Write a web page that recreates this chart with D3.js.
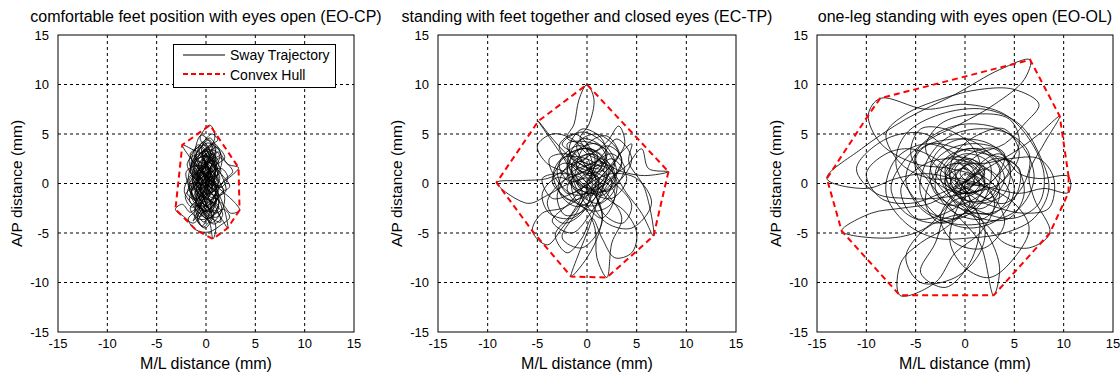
<!DOCTYPE html>
<html><head><meta charset="utf-8">
<script src="https://cdn.jsdelivr.net/npm/d3@7"></script>
<style>
body{margin:0;background:#fff;}
svg{font-family:"Liberation Sans",Arial,sans-serif;}
</style></head>
<body>
<svg id="c" width="1120" height="375"></svg>
<script>
const titles = [
  "comfortable feet position with eyes open (EO-CP)",
  "standing with feet together and closed eyes (EC-TP)",
  "one-leg standing with eyes open (EO-OL)"
];
const tickValues = [-15,-10,-5,0,5,10,15];
const xLabel = "M/L distance (mm)";
const yLabel = "A/P distance (mm)";
const legendLabels = ["Sway Trajectory","Convex Hull"];

const swayEOCP = [[0,0],[0.5,1.2],[-0.4,2.1],[0.3,3.0],[-0.8,2.4],[-0.2,1.0],[0.8,0.3],[-0.6,-0.8],[0.2,-1.9],[-1.1,-1.2],[-0.3,0.4],[0.9,1.6],[0.1,2.8],[-1.3,3.4],[-2.4,3.9],[-1.6,2.6],[-0.7,1.5],[-1.4,0.2],[-0.5,-0.5],[0.6,-1.4],[1.3,-0.6],[0.4,0.7],[-0.9,1.1],[-1.7,-0.3],[-1.0,-1.9],[-0.1,-2.8],[0.8,-2.1],[1.5,-1.0],[2.4,-0.3],[1.6,0.9],[0.7,2.0],[0.0,3.6],[-0.6,4.6],[0.4,5.9],[0.9,4.7],[0.2,3.4],[-0.9,2.9],[-1.5,1.8],[-0.8,0.6],[0.3,-0.2],[1.1,0.4],[0.5,1.6],[-0.3,2.4],[-1.0,1.4],[-1.8,0.5],[-2.2,-0.8],[-1.5,-2.0],[-0.6,-3.1],[0.3,-3.8],[0.7,-5.6],[1.0,-4.4],[0.5,-3.0],[-0.2,-1.6],[-1.0,-0.4],[-0.4,0.9],[0.6,1.8],[1.4,2.6],[2.3,1.9],[3.3,1.6],[2.6,0.8],[1.7,0.1],[0.8,-0.7],[0.0,-1.3],[-0.8,-2.2],[-1.6,-2.9],[-2.4,-2.1],[-3.1,-2.6],[-2.3,-3.3],[-1.3,-4.0],[-0.5,-3.2],[0.1,-2.0],[0.9,-1.5],[1.8,-2.2],[2.5,-3.0],[3.4,-2.7],[2.8,-1.8],[1.9,-1.0],[1.0,-0.2],[0.2,0.5],[-0.6,1.3],[-1.2,2.2],[-0.5,3.1],[0.4,3.9],[1.2,4.4],[0.6,5.0],[-0.2,4.3],[-0.9,3.6],[-1.6,3.0],[-1.1,1.9],[-0.2,1.2],[0.7,0.8],[1.3,-0.1],[0.6,-0.9],[-0.3,-1.1],[-1.2,-1.6],[-1.9,-1.0],[-1.3,0.1],[-0.4,-0.1],[0.5,-0.4],[1.4,-1.3],[2.2,-4.5],[1.6,-3.6],[0.9,-2.7],[0.2,-3.4],[-0.4,-4.3],[-0.9,-3.5],[-0.3,-2.5],[0.4,-1.8],[1.1,-0.8],[1.9,0.4],[2.7,1.2],[2.0,2.2],[1.2,3.2],[0.6,2.4],[-0.1,1.7],[-0.8,0.2],[-1.5,-0.9],[-0.7,-1.7],[0.1,-0.9],[0.9,0.1],[0.3,1.0],[-0.5,2.0],[-1.2,2.8],[-1.9,2.0],[-1.4,0.8],[-0.6,0.0],[0.2,-0.6],[1.0,-1.8],[0.4,-2.6],[-0.4,-2.0],[-1.1,-2.8],[-1.8,-3.6],[-1.0,-4.7],[0.3,-4.9],[1.5,-4.2],[2.4,-3.4],[1.8,-2.6],[1.0,-3.0],[0.0,-2.3],[-0.9,-1.0],[-0.2,0.3],[0.7,1.3],[1.6,1.5],[2.2,0.6],[1.5,-0.4],[0.6,0.2],[-0.2,0.9],[-1.0,0.5],[-1.6,1.3],[-1.0,2.5],[-0.2,3.3],[0.6,3.0],[1.3,2.1],[0.8,1.0],[0.0,0.2],[-0.7,-0.6],[0.1,-1.5],[0.8,-2.4],[0.2,-3.0],[-0.5,-1.4],[-1.3,-0.2],[-0.6,1.0],[0.3,2.2],[1.0,3.5],[0.4,4.6],[-0.4,3.8],[-0.3,2.6],[0.3,1.5],[0.0,0.5],
[0.2,-0.8],[-0.5,1.9],[0.4,-1.2],[-0.2,2.6],[0.7,-0.3],[-0.9,1.5],[0.1,-2.4],[-0.6,0.8],[0.8,3.1],[-0.3,-1.0],[0.5,1.1],[-1.2,-0.6],[0.0,2.0],[0.9,-1.9],[-0.7,-3.0],[0.3,0.4],[-0.4,3.3],[1.0,1.2],[-1.0,-1.3],[0.6,-2.9],[-0.2,-0.2],[-1.4,2.1],[0.4,2.7],[1.2,0.0],[-0.5,-2.2],[-1.3,-3.8],[0.2,-1.5],[0.9,1.9],[-0.8,3.9],[-1.5,1.0],[0.3,-0.7],[1.6,-2.5],[0.5,-4.0],[-0.6,-1.8],[-0.1,1.4],[0.7,3.6],[-0.5,4.9],[-1.1,2.3],[0.6,0.1],[1.8,-0.6],[0.2,-2.2],[-1.6,-1.9],[-0.9,0.6],[0.4,2.3],[1.5,3.0],[0.2,4.1],[-1.0,3.0],[-1.8,-0.2],[-0.4,-2.6],[1.1,-3.4],[1.9,-1.5],[0.8,1.0],[-0.7,1.8],[-2.0,1.2],[-1.2,-1.4],[0.1,-3.6],[1.3,-2.0],[0.6,0.9],[-0.4,2.9],[0.9,4.0],[1.6,2.1],[0.3,-0.1],[-1.1,-0.9],[-0.2,-2.9],[0.8,-4.1],[1.7,-3.1],[0.4,-1.6],[-0.9,0.3],[-1.7,2.4],[-0.6,3.7],[0.5,2.0],[1.4,0.5],[0.2,-1.1],[-1.4,-2.4],[-2.1,-1.3],[-1.0,0.1],[0.3,1.3],[1.0,2.6],[0.1,3.5],[-1.2,1.7],[-0.3,-0.4],[0.9,-1.2],[2.0,-0.8],[1.2,1.4],[-0.1,2.2],[-0.9,0.9],[-0.2,-1.7],[0.6,-3.2],[-0.3,-4.4],[-1.1,-2.3],[-0.5,-0.3],[0.6,1.6],[1.9,2.6],[1.0,3.7],[-0.2,2.0],[-1.4,0.4],[-0.6,-1.2],[0.7,-2.0],[1.5,-3.9],[0.0,-3.1],[-1.5,-0.7],[-0.8,1.2],[0.5,2.9],[-0.3,4.2],[-1.0,2.6],[0.2,0.6],[1.1,-0.5],[0.3,-2.1],[-0.7,-3.4],[0.4,-2.6],[1.2,-1.0],[0.4,0.3],[-0.5,1.7],[0.3,3.2],[1.1,2.0],[0.0,0.0],
[0.6,-0.5],[-0.8,0.9],[0.4,2.2],[-0.5,3.0],[0.9,1.3],[-0.2,-0.6],[-1.0,-2.1],[0.5,-2.8],[1.1,-1.2],[-0.3,0.3],[-1.3,1.6],[-0.4,2.9],[0.6,3.8],[0.1,2.1],[-0.9,0.0],[0.2,-1.6],[1.3,-2.3],[0.4,-3.5],[-0.7,-2.5],[-1.5,-1.2],[-0.6,0.5],[0.7,1.5],[1.4,2.8],[0.5,3.4],[-0.6,2.2],[-1.4,1.0],[-0.5,-0.9],[0.5,-1.9],[-0.2,-3.9],[-0.9,-2.8],[0.0,-1.2],[0.9,0.6],[0.0,1.9],[-1.1,2.5],[-0.2,3.9],[0.7,2.6],[1.2,1.0],[0.3,-0.3],[-0.8,-1.6],[-1.6,-2.5],[-0.7,-3.6],[0.6,-3.3],[1.3,-1.9],[0.5,-0.1],[-0.4,1.1],[-1.3,2.0],[-0.5,0.6],[0.6,-0.9],[0.2,1.6],[-0.7,3.2],[0.3,4.4],[1.0,3.0],[0.1,1.1],[-1.0,-0.2],[-0.3,-2.0],[0.8,-2.9],[-0.1,-4.5],[-1.2,-3.1],[-0.4,-1.3],[0.5,0.4],[1.5,1.2],[0.8,2.3],[-0.4,1.6],[-1.7,0.3],[-1.0,-1.0],[0.2,-2.4],[1.0,-0.4],[-0.1,0.8],[0.0,0.0]];

const swayECTP = [[0,1],[1.5,2.5],[2.8,1.0],[1.6,-0.8],[-0.5,-0.2],[-1.8,1.8],[-0.6,3.5],[1.2,3.0],[2.0,1.2],[0.8,-1.5],[-1.2,-2.3],[-2.8,-0.8],[-2.2,1.5],[-0.4,2.2],[0.9,0.3],[0.2,-1.8],[-1.5,-3.5],[-3.8,-3.0],[-4.5,-1.0],[-3.0,0.6],[-1.0,0.2],[0.5,1.8],[-0.3,3.8],[-2.0,4.6],[-1.3,6.0],[-0.8,8.5],[0.0,10.0],[0.7,8.5],[0.2,6.0],[-0.7,4.5],[0.5,3.2],[2.2,3.8],[3.5,2.5],[2.5,0.5],[0.6,-0.6],[-1.2,0.8],[-2.5,2.8],[-4.9,6.3],[-3.2,4.2],[-1.5,2.5],[0.8,1.2],[3.0,-0.2],[4.5,-2.2],[3.6,-4.0],[1.8,-3.2],[1.0,-1.0],[2.4,0.6],[4.0,1.8],[5.5,3.5],[6.2,1.5],[8.2,1.2],[5.8,0.8],[3.5,1.2],[1.0,2.2],[-1.0,1.0],[-2.0,-0.5],[-1.0,-2.0],[0.8,-2.8],[2.5,-2.0],[3.0,0.2],[1.8,2.0],[0.0,3.0],[-1.5,4.5],[-3.5,5.0],[-5.0,3.8],[-4.0,2.0],[-2.0,1.0],[-0.5,-0.8],[-1.5,-3.0],[-3.2,-5.2],[-2.0,-7.0],[-0.5,-5.5],[0.5,-3.5],[1.5,-5.5],[2.8,-7.5],[4.5,-7.0],[5.0,-5.0],[3.8,-2.8],[2.0,-1.5],[0.4,0.5],[-1.8,0.0],[-4.0,-1.2],[-6.0,-2.0],[-9.1,0.1],[-6.5,0.3],[-4.0,0.5],[-2.0,1.5],[0.2,2.8],[2.0,4.2],[3.2,5.8],[3.8,4.0],[2.5,2.0],[0.8,0.0],[-0.8,-1.5],[-2.5,-2.5],[-4.5,-3.0],[-5.5,-4.8],[-4.0,-6.2],[-2.5,-4.5],[-1.0,-2.5],[0.5,-1.0],[1.5,-2.8],[1.2,-5.0],[0.0,-7.5],[-1.6,-9.4],[-0.8,-7.0],[0.2,-4.5],[1.0,-2.0],[2.0,0.5],[3.2,2.8],[4.5,4.0],[4.2,2.2],[5.8,-0.5],[6.7,-5.3],[5.5,-3.0],[4.0,-1.0],[2.2,1.5],[0.0,2.0],[-2.2,3.0],[-3.8,2.5],[-2.8,0.0],[-1.0,-1.2],[1.0,-0.2],[2.8,2.0],[1.5,4.2],[-0.5,5.2],[-2.5,4.0],[-1.0,2.8],[0.5,1.0],[2.0,-1.0],[3.5,-3.5],[2.5,-6.0],[2.0,-9.5],[1.0,-7.5],[0.8,-4.5],[-0.2,-2.5],[-2.0,-1.5],[-3.5,0.2],[-2.5,2.0],[-0.5,1.5],[1.2,0.5],[0.5,-1.2],[-1.0,0.0],[0.0,1.0],
[0.5,0.5],[2.0,2.2],[1.0,4.0],[-1.2,3.2],[-2.0,1.0],[-0.8,-1.0],[1.2,-0.5],[2.2,1.5],[0.5,3.0],[-1.5,2.0],[-1.0,0.0],[0.8,-0.4],[1.8,1.0],[0.2,2.4],[-2.4,2.6],[-3.4,0.8],[-2.0,-1.6],[0.0,-1.2],[1.5,0.8],[3.2,3.0],[1.0,5.0],[-1.0,4.0],[-0.2,1.8],[1.2,0.0],[0.0,-2.5],[-2.2,-3.2],[-3.0,-1.2],[-1.5,1.2],[0.5,2.0],[2.5,3.0],[3.8,1.5],[2.0,-0.8],[-0.2,0.8],[-1.8,3.5],[-0.5,5.5],[1.5,4.5],[1.8,2.5],[-0.2,1.2],[-2.5,0.2],[-4.0,-2.0],[-2.5,-4.0],[-0.5,-3.0],[0.5,-0.5],[0.0,2.5],[-1.2,1.0],[0.3,-0.8],[2.5,-1.5],[4.0,0.5],[2.5,2.5],[0.8,1.5],[-1.0,2.2],[-2.0,4.0],[0.0,4.2],[2.0,3.2],[1.0,1.0],[-0.5,-0.5],[-2.0,-1.0],[-3.0,1.5],[-1.8,3.0],[0.4,3.5],[2.2,2.0],[2.8,-0.5],[1.0,-2.2],[-1.0,-1.8],[-1.5,0.5],[0.2,1.5],[1.5,2.8],[3.0,4.5],[4.5,2.5],[3.0,0.0],[0.8,-1.0],[-1.5,-0.2],[-2.8,2.0],[-1.0,3.8],[1.0,3.0],[0.5,1.0],[-0.8,-2.5],[-2.5,-5.5],[-0.5,-6.5],[1.5,-4.0],[1.0,-1.5],[-0.5,0.5],[-2.5,1.0],[-4.5,0.5],[-3.5,-1.5],[-1.5,-1.0],[0.5,0.2],[2.5,1.0],[5.0,0.5],[6.5,-2.0],[4.5,-4.5],[2.0,-4.0],[0.5,-2.0],[0.0,0.0],[1.5,1.8],[0.0,3.5],[-2.0,2.8],[-1.0,1.5],[0.5,0.8],
[1.0,1.5],[2.5,0.2],[1.2,-2.0],[-1.0,-0.8],[-2.0,2.0],[-0.5,4.5],[1.8,3.5],[3.0,1.0],[1.5,-1.2],[-0.8,1.0],[-2.8,3.8],[-1.2,5.0],[0.8,2.5],[0.0,0.2],[-1.8,-2.0],[-3.5,-3.8],[-1.5,-5.0],[0.5,-2.8],[2.0,-0.2],[3.5,2.0],[2.0,4.8],[-0.2,3.8],[-1.0,1.5],[0.8,0.8],[2.8,-1.0],[1.5,-3.5],[-0.5,-1.5],[-1.5,1.5],[0.3,3.0],[1.8,1.5],[0.0,1.0]];

const swayEOOL = [[0,0],[2.0,1.5],[3.5,-0.5],[1.8,-2.5],[-0.8,-1.8],[-2.5,0.8],[-1.0,3.0],[1.5,3.5],[3.8,2.0],[5.0,-0.5],[3.5,-3.5],[0.5,-4.5],[-2.5,-3.5],[-4.5,-1.0],[-4.0,2.0],[-2.0,4.5],[1.0,5.5],[4.5,5.0],[6.5,3.0],[6.0,0.0],[4.0,-2.0],[1.0,-1.0],[-1.5,0.5],[-4.0,1.0],[-7.0,0.5],[-10.0,-0.5],[-14.0,0.5],[-10.5,3.5],[-6.0,6.5],[-1.0,9.0],[3.5,11.5],[6.6,12.5],[6.0,10.5],[3.0,8.0],[-0.5,6.0],[-3.5,4.5],[-6.0,2.5],[-7.5,-0.5],[-6.0,-3.0],[-3.0,-4.0],[0.0,-3.0],[2.5,-1.0],[4.5,1.5],[3.0,3.5],[0.5,3.0],[-1.5,1.0],[-0.5,-1.5],[2.0,-3.0],[5.0,-3.5],[7.5,-2.0],[8.0,1.0],[6.5,4.5],[4.0,7.0],[0.0,8.0],[-4.0,7.5],[-8.6,8.6],[-9.8,6.9],[-8.5,4.0],[-5.0,2.0],[-1.5,1.5],[1.5,0.5],[3.0,-2.0],[1.5,-5.0],[-1.0,-7.0],[-3.0,-10.0],[-6.6,-11.3],[-6.5,-8.0],[-4.5,-6.0],[-2.0,-4.5],[0.5,-2.0],[-1.0,0.8],[-3.0,2.5],[-5.5,3.5],[-8.0,3.0],[-10.0,1.0],[-8.5,-1.5],[-5.5,-2.0],[-2.5,-1.0],[0.5,0.5],[3.0,2.0],[5.5,3.5],[7.5,5.0],[9.6,6.8],[8.0,4.0],[6.5,1.0],[7.0,-1.5],[8.6,-5.0],[6.5,-6.5],[4.0,-6.0],[2.0,-4.0],[0.0,-2.5],[-2.0,-1.0],[-3.5,1.5],[-2.5,3.5],[0.0,4.5],[2.5,3.0],[4.0,0.5],[2.5,-1.5],[0.0,-0.5],[-2.0,-2.5],[-4.0,-4.5],[-7.5,-5.5],[-12.5,-4.8],[-9.5,-3.0],[-6.5,-2.5],[-3.5,-2.0],[-1.0,-0.5],[1.5,1.5],[0.5,4.0],[-2.0,5.5],[-4.5,5.5],[-5.5,3.0],[-3.5,0.0],[-1.0,-3.0],[1.5,-6.0],[2.9,-11.3],[3.5,-8.5],[2.5,-5.5],[1.0,-3.5],[-0.5,-1.0],[1.0,1.5],[3.5,3.0],[5.5,1.0],[7.5,0.5],[10.5,0.7],[10.5,-0.9],[8.0,-0.5],[5.5,-1.0],[3.0,-0.5],[0.5,0.0],[-2.0,1.0],[-4.0,3.5],[-2.5,6.0],[1.0,7.0],[4.5,6.5],[5.5,4.0],[3.5,1.0],[1.0,-1.0],[-1.5,-2.0],[-3.0,-6.0],[-4.5,-9.0],[-2.0,-10.5],[0.5,-8.0],[1.5,-4.0],[0.5,-1.5],[-1.0,0.5],[0.5,2.0],[2.0,0.0],[0.0,0.0],
[0.5,0.5],[3.0,2.5],[5.5,1.5],[5.0,-1.5],[2.5,-3.0],[-0.5,-2.5],[-3.0,-1.0],[-3.5,1.5],[-1.5,3.5],[1.5,4.0],[4.0,3.0],[3.0,0.5],[0.5,-1.0],[-2.0,0.0],[-1.0,2.0],[1.0,1.5],[2.0,-0.5],[0.0,-2.0],[-2.5,-2.0],[-4.5,0.0],[-5.0,3.0],[-3.0,5.0],[0.0,6.0],[3.5,5.5],[6.0,3.5],[7.0,0.5],[5.5,-2.5],[2.0,-4.0],[-1.5,-4.0],[-4.5,-2.5],[-6.0,0.5],[-4.5,3.5],[-1.0,4.5],[2.5,4.0],[4.5,2.0],[4.0,-1.0],[1.5,-2.0],[-1.0,-1.0],[-2.0,1.5],[0.0,3.0],[2.5,2.0],[2.0,-1.5],[-0.5,-3.5],[-3.5,-3.0],[-5.5,-1.0],[-7.0,2.0],[-6.0,5.0],[-2.5,7.0],[2.0,7.5],[5.5,6.0],[7.5,3.0],[8.5,-0.5],[7.0,-3.5],[4.0,-5.0],[0.5,-5.5],[-3.0,-5.5],[-6.0,-4.0],[-8.0,-1.0],[-7.0,2.5],[-4.0,4.0],[-1.0,3.0],[1.0,1.0],[0.0,-1.0],[-1.5,0.0],[0.5,2.0],[3.0,1.0],[4.5,-1.0],[3.0,-3.0],[0.5,-3.0],[-2.0,-3.5],[-4.5,-5.0],[-6.0,-7.5],[-4.5,-10.0],[-1.0,-9.5],[1.5,-7.0],[2.0,-4.5],[0.5,-2.0],[-1.5,-0.5],[-3.0,1.0],[-2.0,2.5],[0.5,2.5],[2.0,1.5],[1.0,0.0],[-0.5,1.0],[1.5,3.0],[4.0,4.0],[6.0,6.0],[7.5,8.0],[5.0,9.5],[1.5,9.5],[-2.5,8.5],[-6.0,7.0],[-8.0,5.0],[-6.5,2.0],[-3.5,0.5],[-0.5,0.5],[2.5,-0.5],[5.0,-2.0],[6.5,-4.5],[5.0,-7.5],[2.5,-9.5],[0.0,-8.5],[-1.5,-6.0],[-1.0,-3.0],[0.5,-0.5],[2.0,1.0],[0.5,2.5],[-1.0,1.5],[-0.5,0.0],[1.0,-1.5],[3.5,-2.5],[6.0,-3.0],[8.5,-2.5],[9.0,0.5],[7.5,2.5],[4.5,2.5],[1.5,2.0],[-1.5,2.5],[-4.0,2.0],[-6.5,-0.5],[-5.0,-3.5],[-2.0,-3.0],[0.0,-1.5],[0.0,0.0],
[1.0,1.0],[3.5,-1.0],[2.0,-3.5],[-1.0,-3.0],[-3.0,-0.5],[-2.0,2.5],[1.0,3.5],[3.5,1.5],[2.5,-1.5],[-0.5,-1.5],[-2.0,1.0],[0.0,2.5],[2.0,0.5],[0.5,-2.5],[-2.5,-4.0],[-4.0,-2.0],[-3.0,1.0],[-0.5,2.0],[1.5,-0.5],[-0.5,-1.0],[-3.5,0.5],[-5.0,2.5],[-3.5,4.0],[-0.5,3.5],[2.0,3.0],[5.0,2.0],[6.0,-1.0],[4.5,-3.5],[1.5,-3.5],[-1.0,-2.0],[-2.0,0.5],[0.0,1.5],[1.5,0.0],[0.5,-1.0],[-1.5,0.5],[-1.0,3.0],[1.5,5.0],[4.0,5.5],[5.5,3.0],[3.5,0.0],[0.0,-1.0],[-3.0,-1.5],[-6.0,-1.5],[-9.0,-1.0],[-11.0,1.5],[-8.0,4.5],[-4.0,5.0],[-1.0,2.5],[1.0,0.5],[3.0,-1.5],[4.0,-4.0],[2.0,-6.5],[-1.0,-6.0],[-2.5,-3.5],[-1.0,-1.0],[1.0,0.0],[0.0,1.0],[-1.0,-0.5],[0.5,-0.2]];

const sways = [swayEOCP, swayECTP, swayEOOL];

const svg = d3.select("#c");
const panelLeft = [58, 438, 817];
const panelW = [296, 298, 296];
const plotTop = 35, plotH = 297;

sways.forEach((pts, i) => {
  const L = panelLeft[i], W = panelW[i];
  const x = d3.scaleLinear().domain([-15,15]).range([L, L+W]);
  const y = d3.scaleLinear().domain([-15,15]).range([plotTop+plotH, plotTop]);
  const g = svg.append("g");

  const inner = tickValues.filter(v => v > -15 && v < 15);
  g.selectAll(".gx").data(inner).join("line")
    .attr("x1", d => x(d)).attr("x2", d => x(d))
    .attr("y1", plotTop).attr("y2", plotTop+plotH)
    .attr("stroke", "#000").attr("stroke-width", 1).attr("stroke-dasharray", "3,3");
  g.selectAll(".gy").data(inner).join("line")
    .attr("y1", d => y(d)).attr("y2", d => y(d))
    .attr("x1", L).attr("x2", L+W)
    .attr("stroke", "#000").attr("stroke-width", 1).attr("stroke-dasharray", "3,3");

  const line = d3.line().x(d => x(d[0])).y(d => y(d[1])).curve(d3.curveCatmullRom.alpha(0.5));
  g.append("path").attr("d", line(pts)).attr("fill", "none")
    .attr("stroke", "#000").attr("stroke-width", 0.9).attr("stroke-opacity", 0.9);

  const hull = d3.polygonHull(pts);
  g.append("path").attr("d", "M" + hull.map(p => [x(p[0]), y(p[1])].join(",")).join("L") + "Z")
    .attr("fill", "none").attr("stroke", "#ff0000").attr("stroke-width", 2)
    .attr("stroke-dasharray", "6,4");

  g.append("rect").attr("x", L).attr("y", plotTop).attr("width", W).attr("height", plotH)
    .attr("fill", "none").attr("stroke", "#000").attr("stroke-width", 1);

  g.selectAll(".tx").data(tickValues).join("text")
    .attr("x", d => x(d)).attr("y", plotTop+plotH+16).attr("text-anchor", "middle")
    .attr("font-size", 13).text(d => d);
  g.selectAll(".ty").data(tickValues).join("text")
    .attr("x", L-9).attr("y", d => y(d)+4.5).attr("text-anchor", "end")
    .attr("font-size", 13).text(d => d);

  g.append("text").attr("x", L+W/2).attr("y", 369).attr("text-anchor", "middle")
    .attr("font-size", 16).text(xLabel);
  g.append("text").attr("transform", `translate(${L-36},${plotTop+plotH/2}) rotate(-90)`)
    .attr("text-anchor", "middle").attr("font-size", 15.5).text(yLabel);

  g.append("text").attr("x", L+W/2).attr("y", 22).attr("text-anchor", "middle")
    .attr("font-size", 16).text(titles[i]);

  if (i === 0) {
    const lg = g.append("g");
    lg.append("rect").attr("x", 173.5).attr("y", 44.5).attr("width", 162).attr("height", 43)
      .attr("fill", "#fff").attr("stroke", "#000").attr("stroke-width", 1);
    lg.append("line").attr("x1", 183).attr("x2", 225).attr("y1", 55).attr("y2", 55)
      .attr("stroke", "#000").attr("stroke-width", 1);
    lg.append("line").attr("x1", 183).attr("x2", 225).attr("y1", 74).attr("y2", 74)
      .attr("stroke", "#ff0000").attr("stroke-width", 2).attr("stroke-dasharray", "5,3");
    lg.selectAll("text").data(legendLabels).join("text")
      .attr("x", 230).attr("y", (d, k) => 60 + k*19.5)
      .attr("font-size", 14).text(d => d);
  }
});
</script>
</body></html>
